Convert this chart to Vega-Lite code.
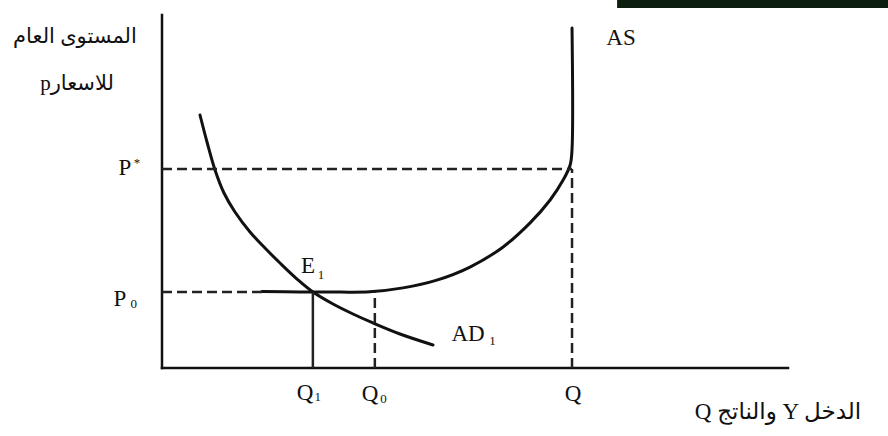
{
  "$schema": "https://vega.github.io/schema/vega-lite/v6.json",
  "width": 626,
  "height": 353,
  "autosize": {"type": "none"},
  "padding": {"left": 162, "top": 15, "right": 100, "bottom": 68},
  "background": "white",
  "config": {"view": {"stroke": null}},
  "datasets": {
    "axes": [
      {"x": 0, "y": 0, "x2": 100, "y2": 0},
      {"x": 0, "y": 0, "x2": 0, "y2": 100}
    ],
    "as": [
      {"i": 1, "x": 15.97, "y": 21.7},
      {"i": 2, "x": 22.0, "y": 21.55},
      {"i": 3, "x": 28.4, "y": 21.5},
      {"i": 4, "x": 33.2, "y": 21.6},
      {"i": 5, "x": 38.5, "y": 22.7},
      {"i": 6, "x": 43.9, "y": 24.9},
      {"i": 7, "x": 49.2, "y": 28.6},
      {"i": 8, "x": 54.5, "y": 34.3},
      {"i": 9, "x": 58.8, "y": 41.1},
      {"i": 10, "x": 62.0, "y": 47.6},
      {"i": 11, "x": 64.1, "y": 53.3},
      {"i": 12, "x": 65.2, "y": 57.5},
      {"i": 13, "x": 65.5, "y": 62.0},
      {"i": 14, "x": 65.5, "y": 96.3}
    ],
    "ad": [
      {"i": 1, "x": 6.07, "y": 71.67},
      {"i": 2, "x": 7.19, "y": 64.02},
      {"i": 3, "x": 8.47, "y": 56.09},
      {"i": 4, "x": 9.90, "y": 49.58},
      {"i": 5, "x": 11.66, "y": 44.19},
      {"i": 6, "x": 14.06, "y": 38.53},
      {"i": 7, "x": 16.45, "y": 33.99},
      {"i": 8, "x": 19.01, "y": 29.46},
      {"i": 9, "x": 21.57, "y": 25.21},
      {"i": 10, "x": 24.12, "y": 21.53},
      {"i": 11, "x": 27.32, "y": 18.13},
      {"i": 12, "x": 30.51, "y": 15.30},
      {"i": 13, "x": 33.71, "y": 12.75},
      {"i": 14, "x": 38.02, "y": 9.63},
      {"i": 15, "x": 43.29, "y": 6.52}
    ],
    "dashed": [
      {"x": 0, "y": 56.4, "x2": 65.5, "y2": 56.4},
      {"x": 65.5, "y": 0, "x2": 65.5, "y2": 56.4},
      {"x": 0, "y": 21.5, "x2": 16, "y2": 21.5},
      {"x": 34.0, "y": 0, "x2": 34.0, "y2": 21.5}
    ],
    "solid": [
      {"x": 24.1, "y": 0, "x2": 24.1, "y2": 21.5}
    ],
    "labels": [
      {"t": "P", "x": -5.91, "y": 56.66},
      {"t": "P", "x": -6.71, "y": 19.55},
      {"t": "Q", "x": 22.84, "y": -7.08},
      {"t": "Q", "x": 33.23, "y": -7.37},
      {"t": "Q", "x": 65.65, "y": -7.37},
      {"t": "E", "x": 23.32, "y": 28.9},
      {"t": "AD", "x": 48.88, "y": 9.63},
      {"t": "AS", "x": 73.32, "y": 93.48}
    ],
    "subs": [
      {"t": "*", "x": -4.0, "y": 58.07},
      {"t": "0", "x": -4.5, "y": 18.13},
      {"t": "1", "x": 24.9, "y": -8.22},
      {"t": "0", "x": 35.4, "y": -8.78},
      {"t": "1", "x": 25.4, "y": 26.35},
      {"t": "1", "x": 52.8, "y": 7.65}
    ],
    "arabic": [
      {"t": "المستوى العام", "x": -13.9, "y": 93.77},
      {"t": "pللاسعار", "x": -13.58, "y": 80.45}
    ],
    "xtitle": [
      {"t": "Q والناتج Y الدخل", "x": 98.4, "y": -12.46}
    ],
    "banner": [
      {"x": 72.7, "x2": 116, "y": 102, "y2": 105}
    ]
  },
  "encoding": {
    "x": {"field": "x", "type": "quantitative", "scale": {"domain": [0, 100], "nice": false, "zero": false}, "axis": null},
    "y": {"field": "y", "type": "quantitative", "scale": {"domain": [0, 100], "nice": false, "zero": false}, "axis": null}
  },
  "layer": [
    {
      "data": {"name": "axes"},
      "mark": {"type": "rule", "color": "#111", "strokeWidth": 2.5, "strokeCap": "square"},
      "encoding": {"x2": {"field": "x2"}, "y2": {"field": "y2"}}
    },
    {
      "data": {"name": "as"},
      "mark": {"type": "line", "color": "#111", "strokeWidth": 3, "interpolate": "catmull-rom", "strokeCap": "round"},
      "encoding": {"order": {"field": "i", "type": "quantitative"}}
    },
    {
      "data": {"name": "ad"},
      "mark": {"type": "line", "color": "#111", "strokeWidth": 3, "interpolate": "catmull-rom", "strokeCap": "round"},
      "encoding": {"order": {"field": "i", "type": "quantitative"}}
    },
    {
      "data": {"name": "dashed"},
      "mark": {"type": "rule", "color": "#222", "strokeWidth": 2.5, "strokeDash": [10, 5]},
      "encoding": {"x2": {"field": "x2"}, "y2": {"field": "y2"}}
    },
    {
      "data": {"name": "solid"},
      "mark": {"type": "rule", "color": "#222", "strokeWidth": 2.5},
      "encoding": {"x2": {"field": "x2"}, "y2": {"field": "y2"}}
    },
    {
      "data": {"name": "labels"},
      "mark": {"type": "text", "font": "Liberation Serif", "fontSize": 23, "color": "#111", "align": "center", "baseline": "middle"},
      "encoding": {"text": {"field": "t"}}
    },
    {
      "data": {"name": "subs"},
      "mark": {"type": "text", "font": "Liberation Serif", "fontSize": 13, "color": "#111", "align": "center", "baseline": "middle"},
      "encoding": {"text": {"field": "t"}}
    },
    {
      "data": {"name": "arabic"},
      "mark": {"type": "text", "font": "Liberation Serif, DejaVu Sans", "fontSize": 21, "color": "#111", "align": "center", "baseline": "middle"},
      "encoding": {"text": {"field": "t"}}
    },
    {
      "data": {"name": "xtitle"},
      "mark": {"type": "text", "font": "Liberation Serif, DejaVu Sans", "fontSize": 23, "color": "#111", "align": "center", "baseline": "middle"},
      "encoding": {"text": {"field": "t"}}
    },
    {
      "data": {"name": "banner"},
      "mark": {"type": "rect", "color": "#0c1f0e", "clip": false},
      "encoding": {"x2": {"field": "x2"}, "y2": {"field": "y2"}}
    }
  ]
}
